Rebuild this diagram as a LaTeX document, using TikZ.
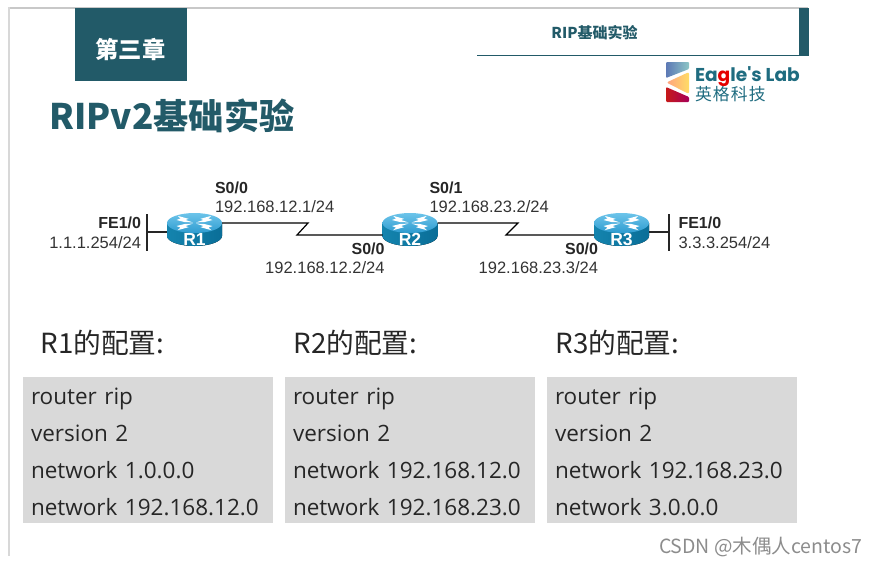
\documentclass[tikz,border=0pt]{standalone}
\usepackage{fontspec}
\setmainfont{Liberation Sans}
\newfontfamily\cjkf{Noto Sans CJK SC}
\newfontfamily\cjks[LetterSpace=7]{Noto Sans CJK SC}
\newfontfamily\cfgf{Open Sans}
\newfontfamily\logof{Poppins}
\definecolor{teal1}{HTML}{225A68}
\definecolor{logot}{HTML}{1F6C80}
\definecolor{cfgbg}{HTML}{D9D9D9}
\definecolor{cfgtx}{HTML}{262626}
\definecolor{frameg}{HTML}{C8C8C8}
\definecolor{rtop}{HTML}{6CC4EA}
\definecolor{rtopb}{HTML}{2F9CD0}
\definecolor{rsidel}{HTML}{1484AE}
\definecolor{rsider}{HTML}{0A6E98}
\newcommand{\fs}[2]{\fontsize{#1}{#2}\selectfont}
\newcommand{\firstl}{\rule{0pt}{19pt}}
\tikzset{
  plain/.style={inner sep=0pt,outer sep=0pt},
  iplabel/.style={plain,font=\fs{16.5}{18},text=black!80},
  iflabel/.style={plain,font=\fs{16}{18}\bfseries,text=black!85},
  wire/.style={draw=black,line width=1.2pt},
  bar/.style={draw=black!85,line width=1.6pt},
  heading/.style={plain,anchor=base west,font=\cjkf\fs{27.7}{30},text=black!85},
  cfgbox/.style={plain,anchor=north west,fill=cfgbg,text=cfgtx,inner xsep=8pt,inner ysep=8pt,
    text width=234pt,align=left,font=\cfgf\fs{22.5}{37}\selectfont},
  rbox/.style={plain,minimum width=55pt,minimum height=33pt},
  rname/.style={plain,font=\fs{17.5}{18}\bfseries,text=white},
}
\newcommand{\router}[4]{%
  \begin{scope}[shift={(#2,#3)}]
    \fill[left color=rsidel,right color=rsider] (-27.5,-6.5) -- (-27.5,6.5)
      arc[start angle=180,end angle=0,x radius=27.5,y radius=10] -- (27.5,-6.5) -- cycle;
    \shade[top color=rtop,bottom color=rtopb] (0,-6.5) ellipse[x radius=27.5,y radius=10];
    \foreach \s/\t in {1/1,-1/1,1/-1,-1/-1}{
      \fill[white,shift={(0,-6.5)},xscale=\s,yscale=\t]
        (1.5,0.6) -- (9,3) -- (6,4.2) -- (17,7.2) -- (14,4.6) -- (18,3) -- (10,1) -- cycle;
    }
  \end{scope}
  \node[rbox] (#1) at (#2,#3) {};
  \node[rname] (#1name) at (#2,#3+9.5) {#4};
}
\begin{document}
\begin{tikzpicture}[x=1pt,y=-1pt]
\useasboundingbox (0,0) rectangle (876,566);
% frame
\fill[frameg] (8,7) rectangle (808,8.5);
\fill[frameg!70] (8,7) rectangle (10,556);
% header
\node[plain,fill=teal1,anchor=north west,minimum width=111.5pt,minimum height=73pt] (chapbox) at (75,8) {};
\node[plain,text=white,font=\cjkf\fs{23.3}{26}\bfseries] (chap) at (130.5,50) {第三章};
\node[plain,anchor=base west,text=teal1,font=\cjkf\fs{35.2}{40}\bfseries] (title) at (49.5,129) {RIPv2基础实验};
\node[plain,text=teal1,font=\cjkf\fs{15}{16}\bfseries] (runhead) at (594.5,33) {RIP基础实验};
\fill[teal1] (799,8) rectangle (809,55);
\draw[teal1,line width=1.2pt] (477,55.3) -- (809,55.3);
% logo
\shade[left color=blue!30!teal1!70!white,right color=teal!45!white,rounded corners=1pt] (666,62) -- (689,62) -- (689,69) -- (666,78) -- cycle;
\shade[left color=orange!55!red!50!white,right color=yellow!55!orange!60!white,rounded corners=2pt] (666.5,82.5) -- (689,72) -- (689,94) -- cycle;
\shade[left color=red!75!black!90,right color=violet!70!red,rounded corners=1pt] (666,87) -- (689,97) -- (689,102) -- (666,102) -- cycle;
\node[plain,anchor=base west,text=logot,font=\logof\fs{18.6}{22}\bfseries] (logoa) at (695,81) {Ea\textcolor{red!90!black}{g}le's Lab};
\node[plain,anchor=base west,text=logot,font=\cjks\fs{16.8}{20}] (logob) at (695,100.5) {英格科技};
% routers
\router{r1}{194.5}{229.5}{R1}
\router{r2}{410}{229.5}{R2}
\router{r3}{621.5}{229.5}{R3}
% coordinates
\coordinate (k1a) at (308,223);
\coordinate (k1b) at (297,235);
\coordinate (k2a) at (518,223);
\coordinate (k2b) at (506,235);
\coordinate (lan1) at (147,232);
\coordinate (lan1t) at (147,214);
\coordinate (lan1b) at (147,251);
\coordinate (lan3) at (669,232);
\coordinate (lan3t) at (669,214);
\coordinate (lan3b) at (669,251);
% links
\draw[wire] (r1.east |- k1a) -- (k1a) -- (k1b) -- (r2.west |- k1b);
\draw[wire] (r2.east |- k2a) -- (k2a) -- (k2b) -- (r3.west |- k2b);
\draw[bar] (r1.west |- lan1) -- (lan1);
\draw[bar] (lan1t) -- (lan1b);
\draw[bar] (r3.east |- lan3) -- (lan3);
\draw[bar] (lan3t) -- (lan3b);
% labels
\node[iflabel,anchor=base east] (l1) at (141,228) {FE1/0};
\node[iplabel,anchor=base east] (l2) at (141,248) {1.1.1.254/24};
\node[iflabel,anchor=base west] (l3) at (215,193) {S0/0};
\node[iplabel,anchor=base west] (l4) at (215,212.5) {192.168.12.1/24};
\node[iflabel,anchor=base east] (l5) at (384.5,254) {S0/0};
\node[iplabel,anchor=base east] (l6) at (384.5,273.5) {192.168.12.2/24};
\node[iflabel,anchor=base west] (l7) at (429.5,193) {S0/1};
\node[iplabel,anchor=base west] (l8) at (429.5,212.5) {192.168.23.2/24};
\node[iflabel,anchor=base east] (l9) at (598,254) {S0/0};
\node[iplabel,anchor=base east] (l10) at (598,273.5) {192.168.23.3/24};
\node[iflabel,anchor=base west] (l11) at (678.5,228) {FE1/0};
\node[iplabel,anchor=base west] (l12) at (678.5,248) {3.3.3.254/24};
% headings
\node[heading] (h1) at (40.5,353.5) {R1的配置:};
\node[heading] (h2) at (293.5,353.5) {R2的配置:};
\node[heading] (h3) at (555.5,353.5) {R3的配置:};
% config boxes
\node[cfgbox] (c1) at (23,377) {\firstl router rip\\version 2\\network 1.0.0.0\\network 192.168.12.0};
\node[cfgbox] (c2) at (285,377) {\firstl router rip\\version 2\\network 192.168.12.0\\network 192.168.23.0};
\node[cfgbox] (c3) at (547,377) {\firstl router rip\\version 2\\network 192.168.23.0\\network 3.0.0.0};
% watermark
\node[plain,anchor=base west,text=black!45,font=\cjkf\fs{19.5}{20}] (wm) at (659,553) {CSDN @木偶人centos7};
\end{tikzpicture}
\end{document}
